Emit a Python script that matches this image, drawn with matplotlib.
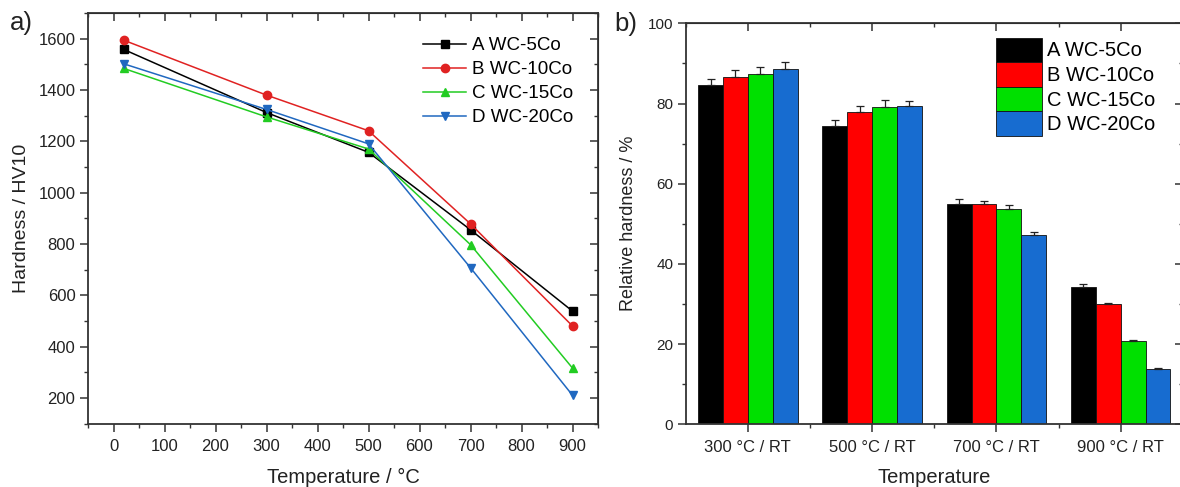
import matplotlib.pyplot as plt
import numpy as np
from matplotlib.ticker import MultipleLocator

plt.rcParams['font.family'] = ['Liberation Sans', 'DejaVu Sans']

# a) hardness vs temperature
temp = [20, 300, 500, 700, 900]
hv_a = [1558, 1312, 1157, 855, 538]
hv_b = [1594, 1380, 1241, 878, 480]
hv_c = [1484, 1295, 1170, 797, 316]
hv_d = [1502, 1324, 1190, 707, 210]

# b) relative hardness (bars + upper error)
cats = ['300 °C / RT', '500 °C / RT', '700 °C / RT', '900 °C / RT']
rel_a = [84.6, 74.4, 54.9, 34.3]
rel_b = [86.7, 77.8, 54.9, 30.0]
rel_c = [87.3, 79.2, 53.8, 20.7]
rel_d = [88.6, 79.3, 47.1, 13.7]
err_a = [1.6, 1.5, 1.3, 0.7]
err_b = [1.7, 1.6, 0.9, 0.35]
err_c = [1.7, 1.7, 0.9, 0.4]
err_d = [1.8, 1.3, 0.8, 0.25]

labels = ['A WC-5Co', 'B WC-10Co', 'C WC-15Co', 'D WC-20Co']
line_cols = ['#000000', '#e02222', '#22cc22', '#2068c0']
bar_cols = ['#000000', '#ff0000', '#00e000', '#176cd0']
markers = ['s', 'o', '^', 'v']
txt = '#222222'

fig = plt.figure(figsize=(11.8, 4.87), dpi=100)
W, H = 1180, 487


def box(x0, y0, x1, y1):
    # pixel box -> figure fraction
    return [x0 / W, 1 - y1 / H, (x1 - x0) / W, (y1 - y0) / H]


def style_axes(ax):
    for s in ax.spines.values():
        s.set_linewidth(1.3)
        s.set_color('#333333')
    ax.tick_params(which='both', direction='out', colors='#333333', labelcolor=txt)
    ax.tick_params(which='major', length=5.5, width=1.1)
    ax.tick_params(which='minor', length=3, width=1.0)


def mirror(ax, xmaj, xmin, ymaj, ymin):
    # inward ticks on top and right, no labels
    sx = ax.secondary_xaxis('top')
    sx.set_xticks(xmaj)
    sx.set_xticks(xmin, minor=True)
    sy = ax.secondary_yaxis('right')
    sy.set_yticks(ymaj)
    sy.set_yticks(ymin, minor=True)
    for a in (sx, sy):
        a.tick_params(which='both', direction='in', labeltop=False, labelright=False,
                      colors='#333333')
        a.tick_params(which='major', length=5.5, width=1.1)
        a.tick_params(which='minor', length=3, width=1.0)


# ---------------- panel a ----------------
ax1 = fig.add_axes(box(88, 13, 598, 423.5))
ys = [hv_a, hv_b, hv_c, hv_d]
for y, lab, c, m in zip(ys, labels, line_cols, markers):
    ax1.plot(temp, y, color=c, marker=m, markersize=6, linewidth=1.1, label=lab)

ax1.set_xlim(-50, 950)
ax1.set_ylim(100, 1700)
ax1.set_xticks(range(0, 901, 100))
ax1.set_yticks(range(200, 1601, 200))
ax1.xaxis.set_minor_locator(MultipleLocator(50))
ax1.yaxis.set_minor_locator(MultipleLocator(100))
style_axes(ax1)
ax1.tick_params(labelsize=12)
ax1.tick_params(axis='x', pad=6)
mirror(ax1, range(0, 901, 100), range(-50, 951, 100),
       range(200, 1601, 200), range(100, 1701, 200))

ax1.set_xlabel('Temperature / °C', fontsize=14.5, color=txt, labelpad=10)
ax1.set_ylabel('Hardness / HV10', fontsize=14, color=txt, labelpad=6)
ax1.legend(loc='upper left', bbox_to_anchor=(423 / W, 1 - 37 / H),
           bbox_transform=fig.transFigure, frameon=False, fontsize=13.5,
           handlelength=2.3, handletextpad=0.3, labelspacing=0.37,
           borderpad=0, borderaxespad=0)
fig.text(10 / W, 1 - 23 / H, 'a)', fontsize=18.5, color=txt, va='center', ha='left')

# ---------------- panel b ----------------
ax2 = fig.add_axes(box(685.7, 23.3, 1182.9, 424.3))
x = np.arange(len(cats))
w = 0.2
rels = [rel_a, rel_b, rel_c, rel_d]
errs = [err_a, err_b, err_c, err_d]
for i, (r, e, lab, c) in enumerate(zip(rels, errs, labels, bar_cols)):
    ax2.bar(x + (i - 1.5) * w, r, w, color=c, edgecolor='#111111', linewidth=0.6,
            yerr=[np.zeros(len(e)), e], capsize=3,
            error_kw=dict(ecolor='#222222', elinewidth=0.9, capthick=0.9), label=lab)

ax2.set_xlim(-0.5, 3.5)
ax2.set_ylim(0, 100)
ax2.set_xticks(x)
ax2.set_xticklabels(cats)
ax2.set_xticks(x[:-1] + 0.5, minor=True)
ax2.set_yticks(range(0, 101, 20))
ax2.yaxis.set_minor_locator(MultipleLocator(10))
style_axes(ax2)
ax2.tick_params(axis='y', labelsize=11)
ax2.tick_params(axis='x', labelsize=12, pad=6)
mirror(ax2, x, np.arange(-0.5, 4, 1.0), range(0, 101, 20), range(10, 100, 20))

ax2.set_xlabel('Temperature', fontsize=14.5, color=txt, labelpad=9)
ax2.set_ylabel('Relative hardness / %', fontsize=13, color=txt, labelpad=8)
ax2.legend(loc='upper left', bbox_to_anchor=(996 / W, 1 - 37.5 / H),
           bbox_transform=fig.transFigure, frameon=False, fontsize=14.5,
           handlelength=2.3, handleheight=1.5, handletextpad=0.25,
           labelspacing=0.0, borderpad=0, borderaxespad=0)
fig.text(614 / W, 1 - 24 / H, 'b)', fontsize=18.5, color=txt, va='center', ha='left')

fig.savefig('out.png', dpi=100)
